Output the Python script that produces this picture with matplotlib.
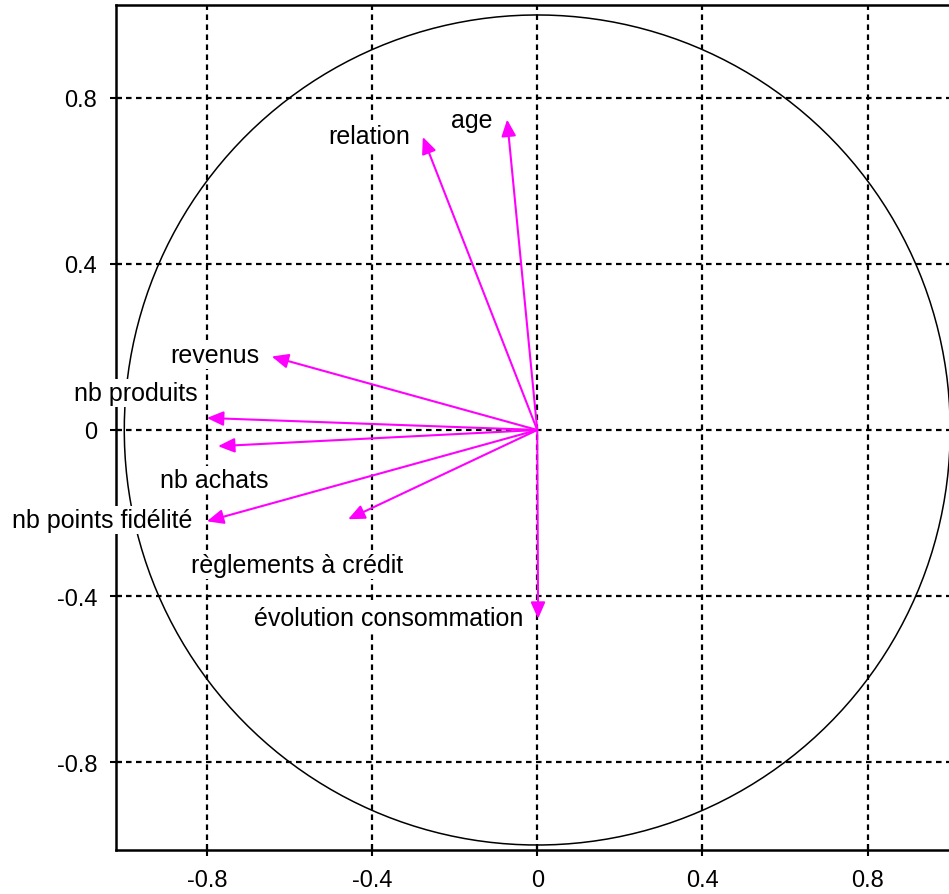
import numpy as np
import matplotlib
matplotlib.use("Agg")
import matplotlib.pyplot as plt

# correlation circle: variable coordinates on the two first axes
variables = ["age", "relation", "revenus", "nb produits", "nb achats",
             "nb points fidélité", "règlements à crédit", "évolution consommation"]
comp1 = [-0.073, -0.277, -0.643, -0.80, -0.773, -0.80, -0.458, 0.002]
comp2 = [0.748, 0.706, 0.177, 0.029, -0.039, -0.220, -0.215, -0.455]

# where each label sits, and how it is aligned
label_x = [-0.108, -0.309, -0.672, -0.822, -0.783, -0.834, -0.582, -0.033]
label_y = [0.747, 0.708, 0.181, 0.089, -0.120, -0.217, -0.325, -0.453]
label_ha = ["right", "right", "right", "right", "center", "right", "center", "right"]

ticks = [-0.8, -0.4, 0, 0.4, 0.8]
tick_labels = ["-0.8", "-0.4", "0", "0.4", "0.8"]

plt.rcParams["font.family"] = ["Liberation Sans", "DejaVu Sans"]

W, H = 949, 895
fig = plt.figure(figsize=(W / 100, H / 100), dpi=100)
# right edge of the frame runs off the picture, like the original
ax = fig.add_axes([116 / W, 44 / H, 842.5 / W, 845 / H])
ax.set_xlim(-1.02, 1.02)
ax.set_ylim(-1.012, 1.024)

ax.set_xticks(ticks)
ax.set_xticklabels(tick_labels)
ax.set_yticks(ticks)
ax.set_yticklabels(tick_labels)
ax.tick_params(direction="inout", length=9, width=1.5, labelsize=17, pad=9, colors="black")

ax.grid(True, color="black", linestyle=(0, (2.5, 2.0)), linewidth=1.6)
ax.set_axisbelow(True)
for s in ax.spines.values():
    s.set_linewidth(1.8)

t = np.linspace(0, 2 * np.pi, 400)
ax.plot(np.cos(t), np.sin(t), color="black", lw=1.1)

for name, x, y, lx, ly, ha in zip(variables, comp1, comp2, label_x, label_y, label_ha):
    ax.annotate("", xy=(x, y), xytext=(0, 0),
                arrowprops=dict(arrowstyle="-|>,head_length=0.5,head_width=0.22",
                                mutation_scale=20, color="#ff00ff", lw=1.5,
                                shrinkA=0, shrinkB=0), zorder=4)
    # labels sit on a white patch that hides grid, circle and frame
    ax.text(lx, ly, name, ha=ha, va="center", fontsize=18, color="black", zorder=5,
            bbox=dict(facecolor="white", edgecolor="none", pad=1.5))

plt.savefig("out.png", dpi=100)
